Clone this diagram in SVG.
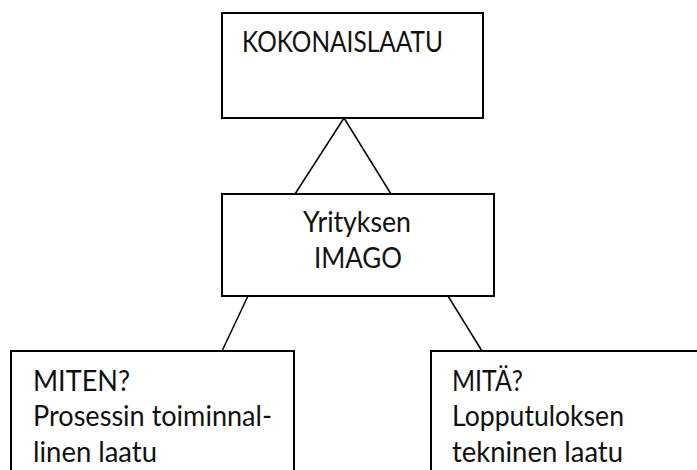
<svg xmlns="http://www.w3.org/2000/svg" width="697" height="470" viewBox="0 0 697 470">
<style>
.box{fill:#fff;stroke:#000;stroke-width:2}
.ln{stroke:#000;stroke-width:1.5;fill:none}
text{font-family:Lato,"Open Sans","Liberation Sans",sans-serif;font-size:28px;fill:#111}
</style>
<rect width="697" height="470" fill="#fff"/>
<g id="connectors">
<line class="ln" x1="344" y1="118" x2="295" y2="194"/>
<line class="ln" x1="344" y1="118" x2="391" y2="194"/>
<line class="ln" x1="248" y1="296" x2="222" y2="351"/>
<line class="ln" x1="448" y1="296" x2="482" y2="351"/>
</g>
<g id="kokonaislaatu">
<rect class="box" x="222" y="13" width="261" height="105"/>
<text x="242" y="52" textLength="201" lengthAdjust="spacingAndGlyphs">KOKONAISLAATU</text>
</g>
<g id="imago">
<rect class="box" x="222" y="194" width="272" height="102"/>
<text x="303" y="232" textLength="108" lengthAdjust="spacingAndGlyphs">Yrityksen</text>
<text x="314" y="268" textLength="88" lengthAdjust="spacingAndGlyphs">IMAGO</text>
</g>
<g id="miten">
<rect class="box" x="11" y="351" width="283" height="125"/>
<text x="33" y="391" textLength="97" lengthAdjust="spacingAndGlyphs">MITEN?</text>
<text x="33" y="426" textLength="239" lengthAdjust="spacingAndGlyphs">Prosessin toiminnal-</text>
<text x="33" y="462" textLength="124" lengthAdjust="spacingAndGlyphs">linen laatu</text>
</g>
<g id="mita">
<rect class="box" x="431" y="351" width="275" height="125"/>
<text x="452" y="391" textLength="71" lengthAdjust="spacingAndGlyphs">MITÄ?</text>
<text x="452" y="426" textLength="172" lengthAdjust="spacingAndGlyphs">Lopputuloksen</text>
<text x="452" y="462" textLength="171" lengthAdjust="spacingAndGlyphs">tekninen laatu</text>
</g>
</svg>
